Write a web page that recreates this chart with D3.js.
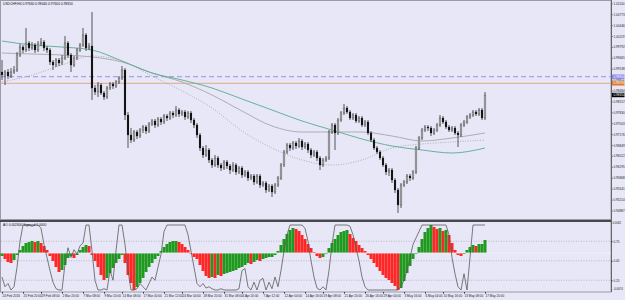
<!DOCTYPE html>
<html><head><meta charset="utf-8">
<script src="https://cdn.jsdelivr.net/npm/d3@7"></script>
<style>html,body{margin:0;padding:0;background:#e7e7f7;}svg{display:block;}</style>
</head><body><svg id="c" width="625" height="300"></svg>
<script>
const symbolTitle = "USDCHF,H4  0.97660 0.98440 0.97600 0.98350";
const aoTitle = "AO 0.002600  Sigmoid 1.0000";
const opens = [0.9904,0.9895,0.9904,0.9892,0.9904,0.9910,0.9955,0.9979,0.9970,0.9991,
0.9976,0.9985,0.9970,0.9988,0.9994,0.9976,0.9970,0.9934,0.9925,0.9940,
0.9931,0.9946,0.9991,0.9955,0.9925,0.9946,0.9970,0.9985,1.0015,0.9976,
0.9982,0.9856,0.9844,0.9865,0.9841,0.9829,0.9856,0.9868,0.9862,0.9874,
0.9886,0.9910,0.9775,0.9715,0.9700,0.9724,0.9712,0.9730,0.9739,0.9727,
0.9748,0.9757,0.9745,0.9763,0.9754,0.9772,0.9766,0.9781,0.9775,0.9790,
0.9778,0.9784,0.9769,0.9781,0.9760,0.9745,0.9715,0.9676,0.9655,0.9670,
0.9640,0.9625,0.9646,0.9625,0.9616,0.9634,0.9622,0.9610,0.9625,0.9604,
0.9616,0.9595,0.9604,0.9586,0.9592,0.9574,0.9592,0.9565,0.9571,0.9550,
0.9562,0.9544,0.9565,0.9586,0.9625,0.9664,0.9685,0.9676,0.9691,0.9682,
0.9697,0.9679,0.9688,0.9670,0.9655,0.9664,0.9646,0.9625,0.9640,0.9646,
0.9724,0.9745,0.9721,0.9760,0.9781,0.9796,0.9784,0.9766,0.9775,0.9757,
0.9766,0.9745,0.9754,0.9721,0.9700,0.9676,0.9664,0.9646,0.9625,0.9604,
0.9610,0.9580,0.9550,0.9505,0.9565,0.9574,0.9592,0.9586,0.9604,0.9676,
0.9706,0.9730,0.9739,0.9736,0.9721,0.9730,0.9745,0.9766,0.9754,0.9739,
0.9730,0.9736,0.9721,0.9715,0.9745,0.9754,0.9769,0.9775,0.9784,0.9778,
0.9790,0.9766];
const highs = [0.9940,0.9910,0.9913,0.9916,0.9922,0.9964,0.9988,0.9985,1.0036,0.9997,
0.9994,0.9991,0.9997,1.0006,1.0000,0.9982,0.9976,0.9940,0.9946,0.9946,
0.9955,1.0012,0.9997,0.9961,0.9952,0.9976,0.9991,1.0036,1.0021,0.9991,
1.0084,0.9865,0.9874,0.9871,0.9847,0.9862,0.9874,0.9874,0.9880,0.9892,
0.9922,0.9916,0.9784,0.9736,0.9730,0.9730,0.9736,0.9745,0.9745,0.9754,
0.9763,0.9763,0.9769,0.9769,0.9778,0.9778,0.9787,0.9787,0.9802,0.9796,
0.9790,0.9790,0.9787,0.9787,0.9766,0.9751,0.9721,0.9682,0.9685,0.9676,
0.9646,0.9655,0.9652,0.9631,0.9640,0.9640,0.9628,0.9634,0.9631,0.9622,
0.9622,0.9610,0.9610,0.9598,0.9598,0.9598,0.9598,0.9577,0.9577,0.9568,
0.9568,0.9571,0.9592,0.9631,0.9670,0.9691,0.9691,0.9697,0.9697,0.9706,
0.9703,0.9694,0.9694,0.9676,0.9670,0.9670,0.9652,0.9646,0.9652,0.9730,
0.9751,0.9751,0.9766,0.9787,0.9808,0.9802,0.9790,0.9781,0.9781,0.9772,
0.9772,0.9760,0.9760,0.9727,0.9706,0.9682,0.9670,0.9652,0.9631,0.9616,
0.9616,0.9586,0.9556,0.9571,0.9580,0.9598,0.9598,0.9610,0.9682,0.9712,
0.9736,0.9745,0.9745,0.9742,0.9736,0.9751,0.9775,0.9772,0.9760,0.9745,
0.9742,0.9742,0.9727,0.9751,0.9760,0.9775,0.9781,0.9790,0.9790,0.9796,
0.9796,0.9844];
const lows = [0.9880,0.9865,0.9883,0.9886,0.9898,0.9904,0.9949,0.9961,0.9964,0.9967,
0.9970,0.9961,0.9964,0.9982,0.9967,0.9961,0.9925,0.9910,0.9919,0.9922,
0.9925,0.9940,0.9946,0.9904,0.9919,0.9940,0.9964,0.9979,0.9967,0.9970,
0.9820,0.9835,0.9829,0.9835,0.9820,0.9823,0.9850,0.9853,0.9856,0.9868,
0.9880,0.9760,0.9676,0.9691,0.9694,0.9703,0.9706,0.9721,0.9718,0.9721,
0.9742,0.9736,0.9739,0.9745,0.9748,0.9757,0.9760,0.9766,0.9769,0.9769,
0.9772,0.9760,0.9763,0.9751,0.9736,0.9706,0.9667,0.9646,0.9649,0.9631,
0.9616,0.9619,0.9616,0.9607,0.9610,0.9613,0.9598,0.9604,0.9595,0.9598,
0.9586,0.9589,0.9577,0.9580,0.9565,0.9568,0.9556,0.9559,0.9541,0.9544,
0.9529,0.9538,0.9559,0.9580,0.9619,0.9658,0.9667,0.9670,0.9673,0.9676,
0.9670,0.9673,0.9661,0.9646,0.9649,0.9637,0.9610,0.9619,0.9634,0.9640,
0.9718,0.9670,0.9715,0.9754,0.9775,0.9778,0.9760,0.9760,0.9751,0.9751,
0.9739,0.9739,0.9715,0.9694,0.9670,0.9658,0.9640,0.9619,0.9595,0.9592,
0.9571,0.9541,0.9481,0.9496,0.9559,0.9568,0.9577,0.9580,0.9598,0.9670,
0.9700,0.9724,0.9727,0.9712,0.9715,0.9724,0.9739,0.9748,0.9733,0.9724,
0.9724,0.9715,0.9679,0.9709,0.9739,0.9748,0.9763,0.9769,0.9772,0.9772,
0.9760,0.9760];
const closes = [0.9895,0.9904,0.9892,0.9904,0.9910,0.9955,0.9979,0.9970,0.9991,0.9976,
0.9985,0.9970,0.9988,0.9994,0.9976,0.9970,0.9934,0.9925,0.9940,0.9931,
0.9946,0.9991,0.9955,0.9925,0.9946,0.9970,0.9985,1.0015,0.9976,0.9982,
0.9856,0.9844,0.9865,0.9841,0.9829,0.9856,0.9868,0.9862,0.9874,0.9886,
0.9910,0.9775,0.9715,0.9700,0.9724,0.9712,0.9730,0.9739,0.9727,0.9748,
0.9757,0.9745,0.9763,0.9754,0.9772,0.9766,0.9781,0.9775,0.9790,0.9778,
0.9784,0.9769,0.9781,0.9760,0.9745,0.9715,0.9676,0.9655,0.9670,0.9640,
0.9625,0.9646,0.9625,0.9616,0.9634,0.9622,0.9610,0.9625,0.9604,0.9616,
0.9595,0.9604,0.9586,0.9592,0.9574,0.9592,0.9565,0.9571,0.9550,0.9562,
0.9544,0.9565,0.9586,0.9625,0.9664,0.9685,0.9676,0.9691,0.9682,0.9697,
0.9679,0.9688,0.9670,0.9655,0.9664,0.9646,0.9625,0.9640,0.9646,0.9724,
0.9745,0.9721,0.9760,0.9781,0.9796,0.9784,0.9766,0.9775,0.9757,0.9766,
0.9745,0.9754,0.9721,0.9700,0.9676,0.9664,0.9646,0.9625,0.9604,0.9610,
0.9580,0.9550,0.9505,0.9565,0.9574,0.9592,0.9586,0.9604,0.9676,0.9706,
0.9730,0.9739,0.9736,0.9721,0.9730,0.9745,0.9766,0.9754,0.9739,0.9730,
0.9736,0.9721,0.9715,0.9745,0.9754,0.9769,0.9775,0.9784,0.9778,0.9790,
0.9766,0.9835];

const maIdx  = [0,10,20,30,40,50,60,70,80,90,100,110,120,130,140,150,161];
const maTeal = [0.9997,0.9985,0.9979,0.9970,0.9937,0.9901,0.9880,0.9856,0.9823,0.9790,0.9757,0.9730,0.9703,0.9682,0.9670,0.9661,0.9676];
const maGray = [0.9961,0.9958,0.9955,0.9949,0.9934,0.9901,0.9874,0.9835,0.9787,0.9742,0.9724,0.9724,0.9724,0.9712,0.9697,0.9706,0.9721];
const maDot  = [0.9874,0.9895,0.9925,0.9952,0.9937,0.9892,0.9847,0.9796,0.9727,0.9676,0.9640,0.9625,0.9640,0.9676,0.9688,0.9694,0.9700];

const dashedLevel = 0.9890;
const orangeLevel = 0.9870;

const priceTicks = [1.01100,1.00773,1.00446,1.00119,0.99792,0.99465,0.99138,0.98811,0.98484,0.98157,
0.97830,0.97503,0.97176,0.96849,0.96522,0.96195,0.95868,0.95541,0.95214,0.94887];

const aoValues = [-0.0006,-0.0012,-0.0018,-0.0020,-0.0014,-0.0004,0.0006,0.0014,0.0020,0.0022,
0.0024,0.0022,0.0024,0.0020,0.0014,0.0006,-0.0006,-0.0016,-0.0028,-0.0038,
-0.0034,-0.0024,-0.0010,-0.0006,-0.0010,-0.0004,0.0006,0.0012,0.0016,0.0014,
-0.0004,-0.0016,-0.0028,-0.0044,-0.0054,-0.0050,-0.0040,-0.0030,-0.0020,-0.0012,
-0.0004,-0.0020,-0.0044,-0.0060,-0.0074,-0.0068,-0.0060,-0.0050,-0.0038,-0.0028,
-0.0020,-0.0012,-0.0006,0.0004,0.0012,0.0018,0.0022,0.0024,0.0024,0.0022,
0.0018,0.0012,0.0006,-0.0002,-0.0008,-0.0012,-0.0024,-0.0036,-0.0046,-0.0050,
-0.0048,-0.0050,-0.0044,-0.0046,-0.0042,-0.0040,-0.0038,-0.0036,-0.0034,-0.0030,
-0.0028,-0.0024,-0.0020,-0.0022,-0.0018,-0.0014,-0.0016,-0.0012,-0.0010,-0.0008,
-0.0008,-0.0004,0.0004,0.0016,0.0028,0.0038,0.0046,0.0050,0.0048,0.0044,
0.0036,0.0028,0.0018,0.0010,0.0002,-0.0006,-0.0010,-0.0008,-0.0002,0.0010,
0.0020,0.0028,0.0036,0.0042,0.0044,0.0046,0.0038,0.0030,0.0024,0.0016,
0.0010,0.0004,-0.0004,-0.0012,-0.0020,-0.0028,-0.0036,-0.0044,-0.0050,-0.0054,
-0.0060,-0.0066,-0.0074,-0.0070,-0.0056,-0.0040,-0.0026,-0.0012,-0.0002,0.0012,
0.0028,0.0042,0.0050,0.0056,0.0052,0.0048,0.0050,0.0044,0.0046,0.0036,
0.0020,0.0006,-0.0004,-0.0006,-0.0002,0.0006,0.0012,0.0016,0.0014,0.0018,
0.0018,0.0026];
const sigValues = [0.20,0.05,0.10,0.00,0.05,0.35,0.75,1.00,1.00,1.00,
0.98,1.00,1.00,0.95,0.70,0.50,0.30,0.12,0.02,0.00,
0.00,0.40,0.65,0.50,0.62,0.55,0.68,0.72,1.00,1.00,
0.60,0.15,0.00,0.00,0.02,0.00,0.30,0.15,0.60,1.00,
1.00,0.70,0.30,0.00,0.00,0.02,0.10,0.05,0.00,0.10,
0.20,0.15,0.35,0.55,0.90,1.00,1.00,1.00,1.00,1.00,
1.00,1.00,0.85,0.60,0.35,0.10,0.05,0.10,0.03,0.05,
0.02,0.00,0.00,0.02,0.00,0.00,0.00,0.00,0.00,0.02,
0.30,0.33,0.05,0.00,0.12,0.00,0.15,0.18,0.00,0.12,
0.02,0.20,0.05,0.30,0.60,0.85,1.00,1.00,1.00,1.00,
1.00,0.95,0.75,0.45,0.20,0.03,0.00,0.05,0.00,0.30,
0.70,1.00,1.00,1.00,1.00,1.00,0.98,0.85,0.65,0.45,
0.20,0.05,0.00,0.00,0.00,0.00,0.00,0.00,0.00,0.00,
0.00,0.00,0.00,0.05,0.15,0.30,0.50,0.70,0.80,0.90,
1.00,1.00,1.00,1.00,1.00,1.00,1.00,1.00,1.00,0.85,
0.50,0.25,0.05,0.00,0.25,0.00,0.50,1.00,1.00,1.00,
1.00,1.00];
const sigLevels = [0.75,0.45,0.15];
const aoAxisTop = 0.0062, aoAxisBottom = -0.0074;

const dateIdx = [0,7,13,20,27,34,40,47,54,60,67,74,80,87,94,101,107,114,121,127,134,141,147,154,161];
const dateLabels = ["24 Feb 2016","25 Feb 20:00","29 Feb 08:00","2 Mar 20:00","7 Mar 08:00","9 Mar 20:00",
"14 Mar 08:00","17 Mar 00:00","21 Mar 12:00","24 Mar 04:00","28 Mar 20:00","31 Mar 08:00","4 Apr 20:00",
"7 Apr 12:00","12 Apr 04:00","14 Apr 16:00","19 Apr 08:00","21 Apr 20:00","26 Apr 16:00","29 Apr 04:00",
"3 May 16:00","6 May 04:00","10 May 16:00","13 May 08:00","17 May 20:00"];

// ---------- drawing ----------
const svg = d3.select("#c");
const FONT = "'Liberation Sans', Arial, sans-serif";
const plotR = 611, topB = 219, subT = 221, subB = 292;

const x = d3.scaleLinear().domain([0, closes.length - 1]).range([2, 485]);
const y = d3.scaleLinear().domain([0.9466, 1.0120]).range([218, 0]);
const yAO = d3.scaleLinear().domain([-0.0074, 0.0056]).range([290, 225]);
const ySig = d3.scaleLinear().domain([0, 1]).range([290, 225]);

svg.append("rect").attr("width", 625).attr("height", 300).attr("fill", "#e7e7f7");
svg.append("rect").attr("x", 0.5).attr("y", 0.5).attr("width", plotR - 0.5).attr("height", topB)
  .attr("fill", "#e7e7f7").attr("stroke", "#9a9aa8").attr("stroke-width", 1);
svg.append("rect").attr("x", 0.5).attr("y", subT).attr("width", plotR - 0.5).attr("height", subB - subT)
  .attr("fill", "#e7e7f7").attr("stroke", "#9a9aa8").attr("stroke-width", 1);
svg.append("line").attr("x1", 0).attr("x2", plotR).attr("y1", subT).attr("y2", subT)
  .attr("stroke", "#222").attr("stroke-width", 1.4);

svg.append("line").attr("x1", 1).attr("x2", plotR).attr("y1", y(dashedLevel)).attr("y2", y(dashedLevel))
  .attr("stroke", "#a4a4ee").attr("stroke-width", 1.4).attr("stroke-dasharray", "5,3");
svg.append("line").attr("x1", 1).attr("x2", plotR).attr("y1", y(orangeLevel)).attr("y2", y(orangeLevel))
  .attr("stroke", "#e2a47a").attr("stroke-width", 0.9);

const maLine = arr => d3.line().x((d, i) => x(maIdx[i])).y(d => y(d)).curve(d3.curveMonotoneX)(arr);
svg.append("path").attr("d", maLine(maDot)).attr("fill", "none").attr("stroke", "#a8a8b0")
  .attr("stroke-width", 0.9).attr("stroke-dasharray", "1,1.5");
svg.append("path").attr("d", maLine(maGray)).attr("fill", "none").attr("stroke", "#a6a6ae").attr("stroke-width", 0.9);
svg.append("path").attr("d", maLine(maTeal)).attr("fill", "none").attr("stroke", "#5aaa90").attr("stroke-width", 0.9);

const idx = d3.range(closes.length);
const cg = svg.append("g");
cg.selectAll("line.w").data(idx).join("line")
  .attr("x1", i => x(i)).attr("x2", i => x(i))
  .attr("y1", i => y(highs[i])).attr("y2", i => y(lows[i]))
  .attr("stroke", "#303030").attr("stroke-width", 0.8);
cg.selectAll("rect.b").data(idx).join("rect")
  .attr("x", i => x(i) - 0.9).attr("width", 1.8)
  .attr("y", i => y(Math.max(opens[i], closes[i])))
  .attr("height", i => Math.max(0.6, Math.abs(y(opens[i]) - y(closes[i]))))
  .attr("fill", i => closes[i] >= opens[i] ? "#bdbdbd" : "#000")
  .attr("stroke", "#202020").attr("stroke-width", 0.3);

svg.append("text").attr("x", 3).attr("y", 5).attr("font-family", FONT).attr("font-size", 3.3)
  .attr("fill", "#111").text(symbolTitle);

const ax = svg.append("g").attr("transform", `translate(${plotR},0)`)
  .call(d3.axisRight(y).tickValues(priceTicks).tickSize(1.5).tickPadding(1).tickFormat(d3.format(".5f")));
ax.select(".domain").remove();
ax.selectAll("line").attr("stroke", "#333");
ax.selectAll("text").attr("font-family", FONT).attr("font-size", 3.1).attr("fill", "#222");
svg.append("line").attr("x1", plotR + 0.5).attr("x2", plotR + 0.5).attr("y1", 0).attr("y2", subB)
  .attr("stroke", "#666").attr("stroke-width", 1);

const tags = [[dashedLevel, "#8c86ec", "#fff"], [orangeLevel, "#e07a26", "#fff"], [closes[closes.length - 1], "#000", "#fff"]];
tags.forEach(([v, bg, fg]) => {
  svg.append("rect").attr("x", plotR + 1).attr("y", y(v) - 2.2).attr("width", 12.5).attr("height", 4.4).attr("fill", bg);
  svg.append("text").attr("x", plotR + 2.5).attr("y", y(v) + 1.1).attr("font-family", FONT).attr("font-size", 3.1)
    .attr("fill", fg).text(d3.format(".5f")(v));
});

// ---------- AO sub window ----------
sigLevels.forEach(l => {
  svg.append("line").attr("x1", 1).attr("x2", plotR).attr("y1", ySig(l)).attr("y2", ySig(l))
    .attr("stroke", "#9a9aa6").attr("stroke-width", 0.6).attr("stroke-dasharray", "1,1.5");
});
svg.selectAll("rect.ao").data(idx).join("rect")
  .attr("x", i => x(i) - 1.5).attr("width", 3)
  .attr("y", i => Math.min(yAO(0), yAO(aoValues[i])))
  .attr("height", i => Math.abs(yAO(aoValues[i]) - yAO(0)))
  .attr("fill", i => (i === 0 || aoValues[i] >= aoValues[i - 1]) ? "#1f9a1f" : "#ff2626");
svg.append("line").attr("x1", 1).attr("x2", plotR).attr("y1", yAO(0)).attr("y2", yAO(0))
  .attr("stroke", "#f4f4fb").attr("stroke-width", 0.8);
svg.append("path").attr("d", d3.line().x((d, i) => x(i)).y(d => ySig(d))(sigValues))
  .attr("fill", "none").attr("stroke", "#5a5a5a").attr("stroke-width", 0.8);
svg.append("text").attr("x", 3).attr("y", 226).attr("font-family", FONT).attr("font-size", 3.3)
  .attr("fill", "#111").text(aoTitle);

const sax = svg.append("g").attr("transform", `translate(${plotR},0)`)
  .call(d3.axisRight(ySig).tickValues(sigLevels).tickSize(1.5).tickPadding(1).tickFormat(d3.format(".2f")));
sax.select(".domain").remove();
sax.selectAll("line").attr("stroke", "#333");
sax.selectAll("text").attr("font-family", FONT).attr("font-size", 3.1).attr("fill", "#222");
[[aoAxisTop, 223.5], [aoAxisBottom, 290]].forEach(([v, yy]) => {
  svg.append("text").attr("x", plotR + 1.5).attr("y", yy).attr("font-family", FONT).attr("font-size", 2.8)
    .attr("fill", "#222").text(d3.format(".4f")(v));
});

// ---------- time axis ----------
const tax = svg.append("g").attr("transform", `translate(0,${subB})`)
  .call(d3.axisBottom(x).tickValues(dateIdx).tickSize(1.5).tickPadding(1.5).tickFormat((d, i) => dateLabels[i]));
tax.select(".domain").remove();
tax.selectAll("line").attr("stroke", "#333");
tax.selectAll("text").attr("font-family", FONT).attr("font-size", 3.1).attr("fill", "#222")
  .attr("text-anchor", "start");
</script></body></html>
